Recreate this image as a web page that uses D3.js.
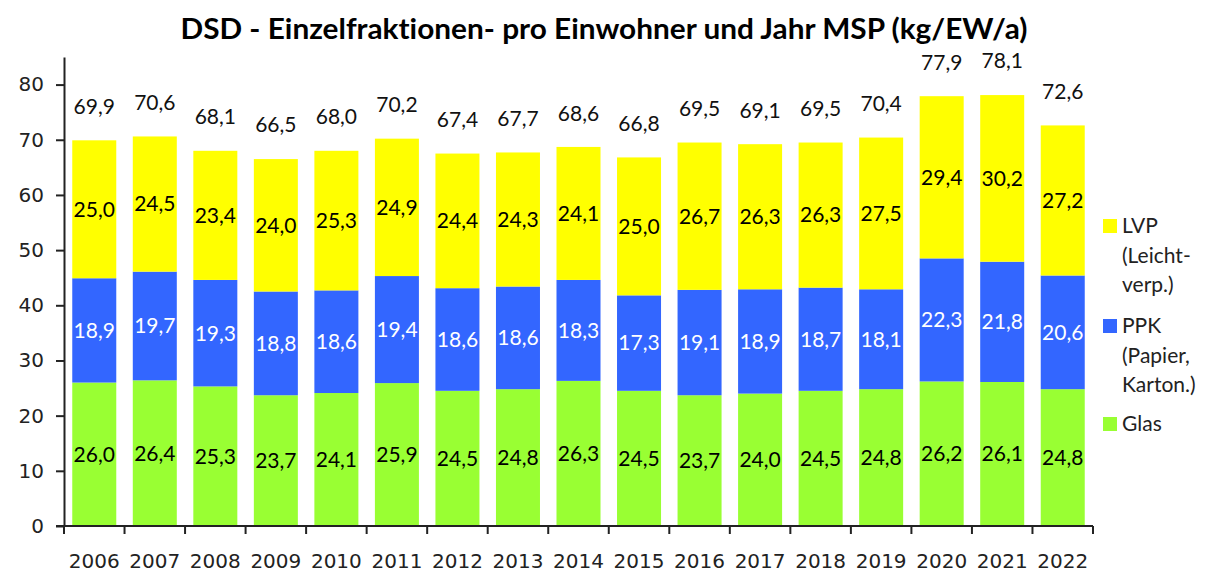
<!DOCTYPE html>
<html>
<head>
<meta charset="utf-8">
<script src="https://cdn.jsdelivr.net/npm/d3@7/dist/d3.min.js"></script>
<style>
  html, body { margin: 0; padding: 0; background: #fff; }
  svg { display: block; }
  text { font-variant-ligatures: none; }
</style>
</head>
<body>
<svg id="chart" width="1208" height="572"></svg>
<script>
const years = ["2006","2007","2008","2009","2010","2011","2012","2013","2014","2015","2016","2017","2018","2019","2020","2021","2022"];
const glas = [26.0,26.4,25.3,23.7,24.1,25.9,24.5,24.8,26.3,24.5,23.7,24.0,24.5,24.8,26.2,26.1,24.8];
const ppk  = [18.9,19.7,19.3,18.8,18.6,19.4,18.6,18.6,18.3,17.3,19.1,18.9,18.7,18.1,22.3,21.8,20.6];
const lvp  = [25.0,24.5,23.4,24.0,25.3,24.9,24.4,24.3,24.1,25.0,26.7,26.3,26.3,27.5,29.4,30.2,27.2];
const totals = [69.9,70.6,68.1,66.5,68.0,70.2,67.4,67.7,68.6,66.8,69.5,69.1,69.5,70.4,77.9,78.1,72.6];
const yTicks = [0,10,20,30,40,50,60,70,80];
const seriesKeys = ["glas","ppk","lvp"];
const seriesColors = {glas:"#99FF33", ppk:"#3366FF", lvp:"#FFFF00"};
const labelColors = {glas:"#000", ppk:"#fff", lvp:"#000"};
const legendItems = [
  {key:"lvp", lines:["LVP","(Leicht-","verp.)"]},
  {key:"ppk", lines:["PPK","(Papier,","Karton.)"]},
  {key:"glas", lines:["Glas"]}
];
const title = "DSD - Einzelfraktionen- pro Einwohner und Jahr MSP (kg/EW/a)";

const fmt = v => d3.format(".1f")(v).replace(".", ",");

const svg = d3.select("#chart");
const x0 = 64, x1 = 1093, yBase = 526, yTop = 57;

const x = d3.scaleBand().domain(years).range([x0, x1]).paddingInner(0.273).paddingOuter(0.1365);
const y = d3.scaleLinear().domain([0, 85]).range([yBase, yTop]);

const table = years.map((yr, i) => ({year: yr, glas: glas[i], ppk: ppk[i], lvp: lvp[i], total: totals[i]}));
const stacked = d3.stack().keys(seriesKeys)(table);

// title
svg.append("text")
  .attr("x", 604).attr("y", 39)
  .attr("text-anchor", "middle")
  .attr("font-family", "Lato, sans-serif")
  .attr("font-weight", "bold")
  .attr("font-size", 28)
  .attr("textLength", 847)
  .attr("lengthAdjust", "spacingAndGlyphs")
  .attr("fill", "#000")
  .text(title);

// bars
const layers = svg.append("g").selectAll("g").data(stacked).join("g")
  .attr("fill", d => seriesColors[d.key]);
layers.selectAll("rect").data(d => d).join("rect")
  .attr("x", d => x(d.data.year))
  .attr("width", x.bandwidth())
  .attr("y", d => y(d[1]))
  .attr("height", d => y(d[0]) - y(d[1]));

// segment labels
const lab = svg.append("g").attr("font-family", "Lato, sans-serif").attr("font-size", 21);
stacked.forEach(layer => {
  lab.append("g").selectAll("text").data(layer).join("text")
    .attr("x", d => x(d.data.year) + x.bandwidth() / 2)
    .attr("y", d => y((d[0] + d[1]) / 2))
    .attr("dy", "0.35em")
    .attr("text-anchor", "middle")
    .attr("fill", labelColors[layer.key])
    .text(d => fmt(d.data[layer.key]));
});

// totals
lab.append("g").selectAll("text").data(table).join("text")
  .attr("x", d => x(d.year) + x.bandwidth() / 2)
  .attr("y", d => y(d.total) - 34)
  .attr("dy", "0.35em")
  .attr("text-anchor", "middle")
  .attr("fill", "#111")
  .text(d => fmt(d.total));

// y axis
const yAxis = d3.axisLeft(y).tickValues(yTicks).tickSize(8).tickSizeOuter(0).tickPadding(12).tickFormat(d3.format("d"));
const gy = svg.append("g").attr("transform", `translate(${x0},0)`).call(yAxis);
gy.select(".domain").attr("stroke", "#222").attr("stroke-width", 2);
gy.selectAll(".tick line").attr("stroke", "#222").attr("stroke-width", 2);
gy.selectAll(".tick text").attr("font-family", "DejaVu Sans, sans-serif").attr("font-size", 20).attr("fill", "#222");

// x axis with ticks at band boundaries
const boundaries = d3.range(years.length + 1).map(i => x0 + i * x.step());
const gx = svg.append("g");
gx.append("line").attr("x1", x0 - 8).attr("x2", x1).attr("y1", yBase).attr("y2", yBase)
  .attr("stroke", "#222").attr("stroke-width", 2);
gx.selectAll("line.tk").data(boundaries).join("line").attr("class", "tk")
  .attr("x1", d => d).attr("x2", d => d).attr("y1", yBase).attr("y2", yBase + 8)
  .attr("stroke", "#222").attr("stroke-width", 2);
gx.selectAll("text").data(years).join("text")
  .attr("x", d => x(d) + x.bandwidth() / 2)
  .attr("y", 568)
  .attr("text-anchor", "middle")
  .attr("font-family", "DejaVu Sans, sans-serif")
  .attr("font-size", 20)
  .attr("fill", "#222")
  .text(d => d);

// legend
const legendY = {lvp: 226, ppk: 326, glas: 424};
const lg = svg.append("g").attr("font-family", "Lato, sans-serif").attr("font-size", 21).attr("fill", "#222");
legendItems.forEach(item => {
  const y0 = legendY[item.key];
  lg.append("rect").attr("x", 1103).attr("y", y0 - 7).attr("width", 14).attr("height", 14)
    .attr("fill", seriesColors[item.key]);
  item.lines.forEach((ln, j) => {
    lg.append("text").attr("x", 1122).attr("y", y0 + j * 29.5).attr("dy", "0.35em").text(ln);
  });
});
</script>
</body>
</html>
